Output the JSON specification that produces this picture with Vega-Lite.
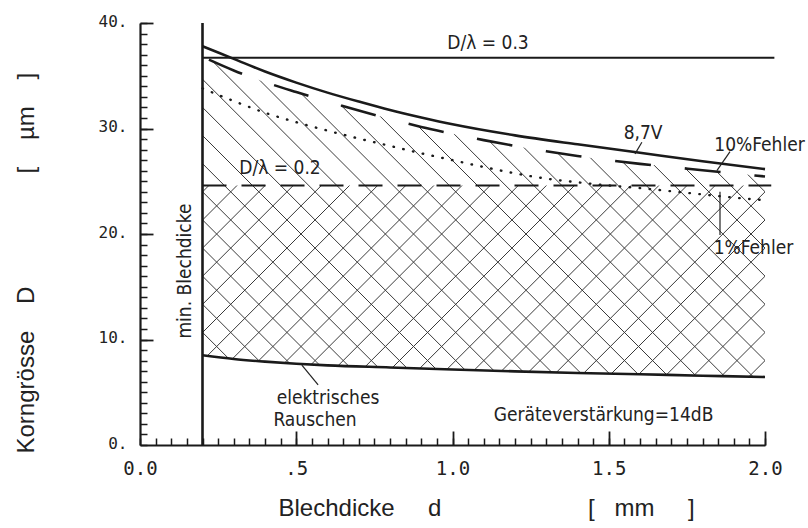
{
  "$schema": "https://vega.github.io/schema/vega-lite/v6.json",
  "width": 625,
  "height": 422,
  "autosize": {"type": "none"},
  "padding": {"left": 140, "top": 23, "right": 43, "bottom": 83},
  "background": "#ffffff",
  "config": {"view": {"stroke": null}, "axis": {"grid": false}},
  "resolve": {"axis": {"x": "independent", "y": "independent"}},
  "datasets": {
    "hatch": [
      {"a": -0.97, "b": 0.3804}, {"a": -0.88, "b": 0.4704}, {"a": -0.79, "b": 0.5604}, {"a": -0.70, "b": 0.6504},
      {"a": -0.61, "b": 0.7404}, {"a": -0.52, "b": 0.8304}, {"a": -0.43, "b": 0.9204}, {"a": -0.34, "b": 1.0104},
      {"a": -0.25, "b": 1.1004}, {"a": -0.16, "b": 1.1904}, {"a": -0.07, "b": 1.2804}, {"a": 0.02, "b": 1.3704},
      {"a": 0.11, "b": 1.4604}, {"a": 0.20, "b": 1.5504}, {"a": 0.29, "b": 1.6404}, {"a": 0.38, "b": 1.7304},
      {"a": 0.47, "b": 1.8204}, {"a": 0.56, "b": 1.9104}, {"a": 0.65, "b": 2.0004}, {"a": 0.74, "b": 2.0904},
      {"a": 0.83, "b": 2.1804}, {"a": 0.92, "b": 2.2704}, {"a": 1.01, "b": 2.3604}, {"a": 1.10, "b": 2.4504},
      {"a": 1.19, "b": 2.5404}, {"a": 1.28, "b": 2.6304}, {"a": 1.37, "b": 2.7204}, {"a": 1.46, "b": 2.8104},
      {"a": 1.55, "b": 2.9004}, {"a": 1.64, "b": 2.9904}, {"a": 1.73, "b": 3.0804}, {"a": 1.82, "b": 3.1704},
      {"a": 1.91, "b": 3.2604}
    ],
    "v87": [
      {"d": 0.2, "D": 37.8}, {"d": 0.3, "D": 36.6}, {"d": 0.4, "D": 35.4}, {"d": 0.5, "D": 34.35},
      {"d": 0.6, "D": 33.4}, {"d": 0.7, "D": 32.55}, {"d": 0.8, "D": 31.75}, {"d": 0.9, "D": 31.05},
      {"d": 1.0, "D": 30.4}, {"d": 1.2, "D": 29.35}, {"d": 1.4, "D": 28.5}, {"d": 1.6, "D": 27.7},
      {"d": 1.8, "D": 26.9}, {"d": 2.0, "D": 26.15}
    ],
    "f10": [
      {"d": 0.2, "D": 36.8}, {"d": 0.3, "D": 35.5}, {"d": 0.4, "D": 34.4}, {"d": 0.5, "D": 33.45},
      {"d": 0.6, "D": 32.55}, {"d": 0.7, "D": 31.7}, {"d": 0.8, "D": 30.9}, {"d": 0.9, "D": 30.15},
      {"d": 1.0, "D": 29.5}, {"d": 1.1, "D": 28.9}, {"d": 1.2, "D": 28.35}, {"d": 1.3, "D": 27.85},
      {"d": 1.4, "D": 27.4}, {"d": 1.5, "D": 27.0}, {"d": 1.6, "D": 26.65}, {"d": 1.7, "D": 26.35},
      {"d": 1.8, "D": 26.05}, {"d": 1.9, "D": 25.75}, {"d": 2.0, "D": 25.45}
    ],
    "f1": [
      {"d": 0.2, "D": 33.8}, {"d": 0.3, "D": 32.6}, {"d": 0.4, "D": 31.5}, {"d": 0.5, "D": 30.6},
      {"d": 0.6, "D": 29.8}, {"d": 0.7, "D": 29.05}, {"d": 0.8, "D": 28.35}, {"d": 0.9, "D": 27.65},
      {"d": 1.0, "D": 27.0}, {"d": 1.1, "D": 26.35}, {"d": 1.2, "D": 25.75}, {"d": 1.3, "D": 25.25},
      {"d": 1.4, "D": 24.9}, {"d": 1.5, "D": 24.6}, {"d": 1.6, "D": 24.35}, {"d": 1.7, "D": 24.05},
      {"d": 1.8, "D": 23.75}, {"d": 1.9, "D": 23.45}, {"d": 2.0, "D": 23.2}
    ],
    "noise": [
      {"d": 0.2, "D": 8.5}, {"d": 0.3, "D": 8.15}, {"d": 0.4, "D": 7.9}, {"d": 0.5, "D": 7.7},
      {"d": 0.6, "D": 7.55}, {"d": 0.8, "D": 7.35}, {"d": 1.0, "D": 7.15}, {"d": 1.2, "D": 6.98},
      {"d": 1.4, "D": 6.83}, {"d": 1.6, "D": 6.7}, {"d": 1.8, "D": 6.57}, {"d": 2.0, "D": 6.45}
    ],
    "leaders": [
      {"x": 1.606, "y": 28.7, "x2": 1.584, "y2": 27.6},
      {"x": 1.888, "y": 27.8, "x2": 1.846, "y2": 26.0},
      {"x": 1.856, "y": 24.0, "x2": 1.856, "y2": 19.9},
      {"x": 0.518, "y": 7.58, "x2": 0.57, "y2": 5.69}
    ],
    "labels": [
      {"label": "D/λ = 0.3", "x": 1.1136, "y": 38.1},
      {"label": "D/λ = 0.2", "x": 0.448, "y": 26.3},
      {"label": "8,7V", "x": 1.61, "y": 29.62},
      {"label": "10%Fehler", "x": 1.9824, "y": 28.48},
      {"label": "1%Fehler", "x": 1.963, "y": 18.63},
      {"label": "elektrisches", "x": 0.6016, "y": 4.41},
      {"label": "Rauschen", "x": 0.56, "y": 2.37},
      {"label": "Geräteverstärkung=14dB", "x": 1.4832, "y": 2.89}
    ],
    "vlabel": [{"label": "min. Blechdicke", "x": 0.144, "y": 16.49}],
    "one": [{}]
  },
  "layer": [
    {
      "data": {"name": "hatch"},
      "mark": {"type": "rule", "clip": true, "stroke": "#3a3a3a", "strokeWidth": 1},
      "encoding": {
        "x": {"field": "a", "type": "quantitative", "scale": {"domain": [0, 2], "nice": false}, "axis": null},
        "x2": {"field": "b"},
        "y": {"datum": 0, "type": "quantitative", "scale": {"domain": [0, 40], "nice": false}, "axis": null},
        "y2": {"datum": 40}
      }
    },
    {
      "data": {"name": "one"},
      "mark": {"type": "rect", "fill": "#ffffff"},
      "encoding": {
        "x": {"datum": 0, "type": "quantitative", "axis": null},
        "x2": {"datum": 2},
        "y": {"datum": 24.6, "type": "quantitative", "axis": null},
        "y2": {"datum": 40}
      }
    },
    {
      "data": {"name": "hatch"},
      "mark": {"type": "rule", "clip": true, "stroke": "#3a3a3a", "strokeWidth": 1},
      "encoding": {
        "x": {"field": "a", "type": "quantitative", "axis": null},
        "x2": {"field": "b"},
        "y": {"datum": 40, "type": "quantitative", "axis": null},
        "y2": {"datum": 0}
      }
    },
    {
      "data": {"name": "f10"},
      "mark": {"type": "area", "fill": "#ffffff", "interpolate": "monotone"},
      "encoding": {
        "x": {"field": "d", "type": "quantitative", "axis": null},
        "y": {"field": "D", "type": "quantitative", "axis": null},
        "y2": {"datum": 40}
      }
    },
    {
      "data": {"name": "noise"},
      "mark": {"type": "area", "fill": "#ffffff", "interpolate": "monotone"},
      "encoding": {
        "x": {"field": "d", "type": "quantitative", "axis": null},
        "y": {"field": "D", "type": "quantitative", "axis": null},
        "y2": {"datum": 0}
      }
    },
    {
      "data": {"name": "one"},
      "mark": {"type": "rect", "fill": "#ffffff"},
      "encoding": {
        "x": {"datum": 0, "type": "quantitative", "axis": null},
        "x2": {"datum": 0.2},
        "y": {"datum": 0, "type": "quantitative", "axis": null},
        "y2": {"datum": 40}
      }
    },
    {
      "data": {"name": "one"},
      "mark": {"type": "rule", "stroke": "#1a1a1a", "strokeWidth": 2},
      "encoding": {
        "x": {"datum": 0.2, "type": "quantitative", "axis": null},
        "x2": {"datum": 2.03},
        "y": {"datum": 36.7, "type": "quantitative", "axis": null}
      }
    },
    {
      "data": {"name": "one"},
      "mark": {"type": "rule", "stroke": "#1a1a1a", "strokeWidth": 2, "strokeDash": [24, 15]},
      "encoding": {
        "x": {"datum": 0.2, "type": "quantitative", "axis": null},
        "x2": {"datum": 2.02},
        "y": {"datum": 24.6, "type": "quantitative", "axis": null}
      }
    },
    {
      "data": {"name": "f1"},
      "mark": {"type": "line", "stroke": "#1a1a1a", "strokeWidth": 2.4, "strokeCap": "round", "strokeDash": [0.5, 9.5], "interpolate": "monotone"},
      "encoding": {
        "x": {"field": "d", "type": "quantitative", "axis": null},
        "y": {"field": "D", "type": "quantitative", "axis": null}
      }
    },
    {
      "data": {"name": "f10"},
      "mark": {"type": "line", "stroke": "#1a1a1a", "strokeWidth": 2.6, "strokeDash": [36, 34], "strokeDashOffset": 63, "interpolate": "monotone"},
      "encoding": {
        "x": {"field": "d", "type": "quantitative", "axis": null},
        "y": {"field": "D", "type": "quantitative", "axis": null}
      }
    },
    {
      "data": {"name": "v87"},
      "mark": {"type": "line", "stroke": "#1a1a1a", "strokeWidth": 2.6, "interpolate": "monotone"},
      "encoding": {
        "x": {"field": "d", "type": "quantitative", "axis": null},
        "y": {"field": "D", "type": "quantitative", "axis": null}
      }
    },
    {
      "data": {"name": "noise"},
      "mark": {"type": "line", "stroke": "#1a1a1a", "strokeWidth": 2.6, "interpolate": "monotone"},
      "encoding": {
        "x": {"field": "d", "type": "quantitative", "axis": null},
        "y": {"field": "D", "type": "quantitative", "axis": null}
      }
    },
    {
      "data": {"name": "one"},
      "mark": {"type": "rule", "stroke": "#1a1a1a", "strokeWidth": 2.6},
      "encoding": {
        "x": {"datum": 0.2, "type": "quantitative", "axis": null},
        "y": {"datum": 0, "type": "quantitative", "axis": null},
        "y2": {"datum": 40}
      }
    },
    {
      "data": {"name": "leaders"},
      "mark": {"type": "rule", "stroke": "#222222", "strokeWidth": 1.2},
      "encoding": {
        "x": {"field": "x", "type": "quantitative", "axis": null},
        "x2": {"field": "x2"},
        "y": {"field": "y", "type": "quantitative", "axis": null},
        "y2": {"field": "y2"}
      }
    },
    {
      "data": {"name": "labels"},
      "mark": {"type": "text", "font": "DejaVu Sans Condensed, DejaVu Sans", "fontSize": 19, "fill": "#222222", "align": "center", "baseline": "middle"},
      "encoding": {
        "x": {"field": "x", "type": "quantitative", "axis": null},
        "y": {"field": "y", "type": "quantitative", "axis": null},
        "text": {"field": "label"}
      }
    },
    {
      "data": {"name": "vlabel"},
      "mark": {"type": "text", "font": "DejaVu Sans Condensed, DejaVu Sans", "fontSize": 19, "fill": "#222222", "align": "center", "baseline": "middle", "angle": 270},
      "encoding": {
        "x": {"field": "x", "type": "quantitative", "axis": null},
        "y": {"field": "y", "type": "quantitative", "axis": null},
        "text": {"field": "label"}
      }
    },
    {
      "data": {"name": "one"},
      "mark": {"type": "point", "opacity": 0},
      "encoding": {
        "x": {"datum": 0, "type": "quantitative", "scale": {"domain": [0, 2], "nice": false},
          "axis": {"orient": "bottom", "zindex": 2, "values": [0, 0.5, 1, 1.5, 2],
            "labelExpr": "datum.value == 0.5 ? '.5' : format(datum.value, '.1f')",
            "ticks": false, "tickSize": 0, "domain": true, "domainColor": "#1a1a1a", "domainWidth": 2.2,
            "labelFont": "DejaVu Sans Mono", "labelFontSize": 19, "labelColor": "#222222", "labelPadding": 14,
            "labelFlush": false, "labelOverlap": false,
            "title": "Blechdicke\u00a0\u00a0\u00a0\u00a0\u00a0d\u00a0\u00a0\u00a0\u00a0\u00a0\u00a0\u00a0\u00a0\u00a0\u00a0\u00a0\u00a0\u00a0\u00a0\u00a0\u00a0\u00a0\u00a0\u00a0\u00a0\u00a0\u00a0[\u00a0\u00a0\u00a0mm\u00a0\u00a0\u00a0\u00a0\u00a0]",
            "titleFont": "Liberation Sans", "titleFontSize": 24, "titleFontWeight": "normal", "titleColor": "#222222",
            "titleX": 138, "titleY": 70, "titleAlign": "left", "titleAnchor": "start", "titleBaseline": "alphabetic"}},
        "y": {"datum": 0, "type": "quantitative", "scale": {"domain": [0, 40], "nice": false},
          "axis": {"orient": "left", "zindex": 2, "values": [0, 10, 20, 30, 40],
            "labelExpr": "datum.value + '.'",
            "ticks": false, "tickSize": 0, "domain": true, "domainColor": "#1a1a1a", "domainWidth": 2.2,
            "labelFont": "DejaVu Sans Mono", "labelFontSize": 16, "labelColor": "#222222", "labelPadding": 13,
            "labelOffset": -2, "labelFlush": false, "labelOverlap": false,
            "title": "Korngrösse\u00a0\u00a0\u00a0\u00a0D\u00a0\u00a0\u00a0\u00a0\u00a0\u00a0\u00a0\u00a0\u00a0\u00a0\u00a0\u00a0\u00a0\u00a0\u00a0\u00a0\u00a0[\u00a0\u00a0\u00a0\u00a0µm\u00a0\u00a0\u00a0\u00a0]",
            "titleFont": "Liberation Sans", "titleFontSize": 24, "titleFontWeight": "normal", "titleColor": "#222222",
            "titleX": -107, "titleY": 430, "titleAngle": 270, "titleAlign": "left", "titleAnchor": "start", "titleBaseline": "alphabetic"}}
      }
    },
    {
      "data": {"name": "one"},
      "mark": {"type": "point", "opacity": 0},
      "encoding": {
        "x": {"datum": 0, "type": "quantitative",
          "axis": {"orient": "bottom", "zindex": 2, "tickCount": 40, "labels": false, "domain": false, "ticks": true,
            "tickSize": -7, "tickWidth": 1.5, "tickColor": "#1a1a1a", "title": null}},
        "y": {"datum": 0, "type": "quantitative",
          "axis": {"orient": "left", "zindex": 2, "tickCount": 40, "labels": false, "domain": false, "ticks": true,
            "tickSize": -7, "tickWidth": 1.5, "tickColor": "#1a1a1a", "title": null}}
      }
    },
    {
      "data": {"name": "one"},
      "mark": {"type": "point", "opacity": 0},
      "encoding": {
        "x": {"datum": 0, "type": "quantitative",
          "axis": {"orient": "bottom", "zindex": 2, "values": [0.5, 1, 1.5, 2], "labels": false, "domain": false, "ticks": true,
            "tickSize": -14, "tickWidth": 1.8, "tickColor": "#1a1a1a", "title": null}},
        "y": {"datum": 0, "type": "quantitative",
          "axis": {"orient": "left", "zindex": 2, "values": [10, 20, 30, 40], "labels": false, "domain": false, "ticks": true,
            "tickSize": -13, "tickWidth": 1.8, "tickColor": "#1a1a1a", "title": null}}
      }
    }
  ]
}
